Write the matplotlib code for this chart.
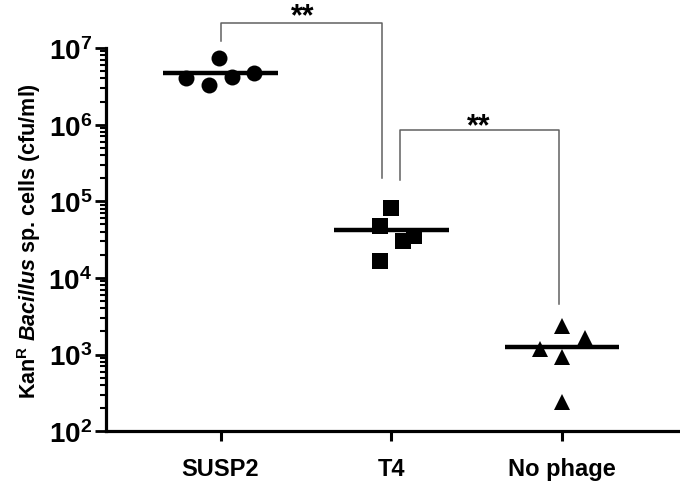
import numpy as np
import matplotlib
matplotlib.use("Agg")
from matplotlib import pyplot as plt
from matplotlib.ticker import LogLocator, FixedLocator

plt.rcParams["font.family"] = ["Liberation Sans", "DejaVu Sans"]
plt.rcParams["font.weight"] = "bold"
plt.rcParams["mathtext.fontset"] = "custom"
plt.rcParams["mathtext.rm"] = "Liberation Sans:bold"
plt.rcParams["mathtext.bf"] = "Liberation Sans:bold"
plt.rcParams["mathtext.it"] = "Liberation Sans:bold:italic"

# data (cfu/ml)
groups = ["SUSP2", "T4", "No phage"]
susp2 = [4.1e6, 3.3e6, 7.4e6, 4.2e6, 4.7e6]
t4 = [8.1e4, 4.7e4, 3.05e4, 3.55e4, 1.67e4]
no_phage = [2.37e3, 1.62e3, 1.18e3, 9.4e2, 2.37e2]
values = [susp2, t4, no_phage]

# horizontal scatter of the points inside each group
jitter = [
    [-0.20, -0.07, -0.01, 0.065, 0.195],
    [0.0, -0.068, 0.066, 0.13, -0.068],
    [0.0, 0.133, -0.13, 0.0, 0.0],
]
markers = ["o", "s", "^"]
msizes = [11.5, 11, 11.5]

fig = plt.figure(figsize=(6.8, 4.85), dpi=100)
ax = fig.add_axes([0.156, 0.109, 0.844, 0.79])

for i, (vals, jit) in enumerate(zip(values, jitter)):
    xs = i + np.array(jit)
    ax.plot(xs, vals, linestyle="none", marker=markers[i], color="black",
            markersize=msizes[i], markeredgewidth=0, zorder=3)
    m = np.mean(vals)
    ax.plot([i - 0.335, i + 0.335], [m, m], color="black", lw=3.2, zorder=4,
            solid_capstyle="butt")

ax.set_yscale("log")
ax.set_ylim(1e2, 1e7)
ax.set_xlim(-0.67, 2.69)

ax.yaxis.set_major_locator(FixedLocator([1e2, 1e3, 1e4, 1e5, 1e6, 1e7]))
ax.set_yticklabels([r"$\mathbf{10^{%d}}$" % k for k in range(2, 8)], fontsize=20)
ax.yaxis.set_minor_locator(LogLocator(base=10, subs=np.arange(2, 10)))
ax.yaxis.set_minor_formatter(plt.NullFormatter())

ax.set_xticks(range(len(groups)))
ax.set_xticklabels(groups, fontsize=17, fontweight="bold")

ax.tick_params(axis="y", which="major", length=8, width=2, pad=2)
ax.tick_params(axis="y", which="minor", length=4, width=1.5)
ax.tick_params(axis="x", which="major", length=7.5, width=2.2, pad=11)

for side in ["top", "right"]:
    ax.spines[side].set_visible(False)
for side in ["left", "bottom"]:
    ax.spines[side].set_linewidth(2.3)

ax.set_ylabel(r"Kan$^{\mathbf{R}}$ $\mathit{Bacillus}$ sp. cells (cfu/ml)",
              fontsize=15.5, fontweight="bold", labelpad=4)

# significance brackets
bc = "#606060"
ax.plot([0.0, 0.0, 0.943, 0.943], [1.23e7, 2.12e7, 2.12e7, 2.0e5],
        color=bc, lw=1.1, clip_on=False)
ax.text(0.48, 4.1e7, "**", ha="center", va="top", fontsize=22,
        fontweight="bold")
ax.plot([1.048, 1.048, 1.98, 1.98], [1.9e5, 8.5e5, 8.5e5, 4.5e3],
        color=bc, lw=1.1, clip_on=False)
ax.text(1.51, 1.51e6, "**", ha="center", va="top", fontsize=22,
        fontweight="bold")

fig.savefig("out.png", dpi=100)
